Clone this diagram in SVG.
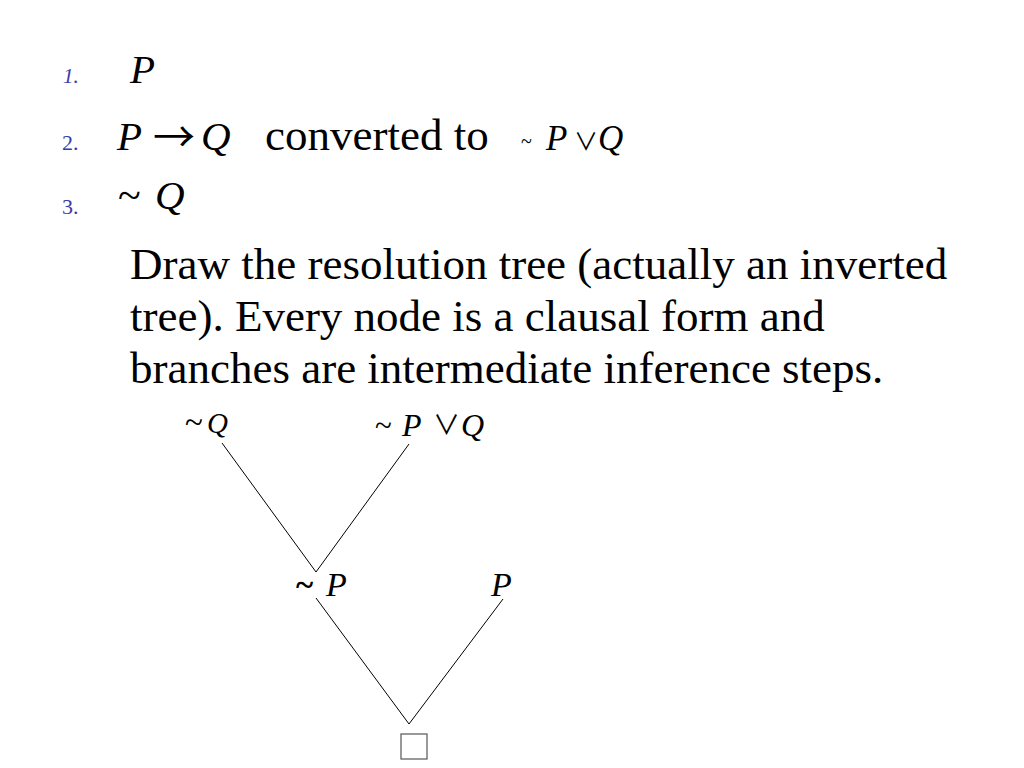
<svg xmlns="http://www.w3.org/2000/svg" width="1024" height="768" viewBox="0 0 1024 768">
<style>
text { font-family: "Liberation Serif", "DejaVu Serif", serif; fill: #000; }
.sym { font-family: "Noto Sans CJK JP", "DejaVu Sans", sans-serif; }
.num { fill: #3a3aa8; }
.it { font-style: italic; }
.body { font-size: 45px; }
.edge { stroke: #000; stroke-width: 1; fill: none; }
</style>
<rect width="1024" height="768" fill="#fff"/>
<g id="list">
  <g id="item1">
    <text class="num it" x="63" y="83" font-size="21">1.</text>
    <text class="it" x="130" y="83" font-size="41">P</text>
  </g>
  <g id="item2">
    <text class="num" x="62" y="150" font-size="22">2.</text>
    <text class="it" x="117" y="150" font-size="41">P</text>
    <text class="sym" x="153" y="152" font-size="42">→</text>
    <text class="it" x="201" y="150" font-size="41">Q</text>
    <text class="body" x="265" y="150">converted to</text>
    <text x="521" y="148" font-size="20">~</text>
    <text class="it" x="546" y="150" font-size="35">P</text>
    <text class="sym" x="574" y="150" font-size="24">∨</text>
    <text class="it" x="598" y="150" font-size="35">Q</text>
  </g>
  <g id="item3">
    <text class="num" x="62" y="214" font-size="22">3.</text>
    <text x="118" y="209" font-size="42">~</text>
    <text class="it" x="155" y="209" font-size="41">Q</text>
  </g>
</g>
<g id="paragraph">
  <text class="body" x="130" y="279">Draw the resolution tree (actually an inverted</text>
  <text class="body" x="130" y="331">tree). Every node is a clausal form and</text>
  <text class="body" x="130" y="383">branches are intermediate inference steps.</text>
</g>
<g id="connectors">
  <line class="edge" x1="222" y1="443" x2="316" y2="572"/>
  <line class="edge" x1="409" y1="444" x2="316" y2="572"/>
  <line class="edge" x1="316" y1="598" x2="409" y2="724"/>
  <line class="edge" x1="503" y1="599" x2="409" y2="724"/>
</g>
<g id="node-notQ">
  <text x="185" y="433" font-size="33">~</text>
  <text class="it" x="207" y="433" font-size="29">Q</text>
</g>
<g id="node-notPorQ">
  <text x="375" y="436" font-size="31">~</text>
  <text class="it" x="402" y="436" font-size="32">P</text>
  <text class="sym" x="433" y="435" font-size="27">∨</text>
  <text class="it" x="461" y="436" font-size="32">Q</text>
</g>
<g id="node-notP">
  <text x="296" y="596" font-size="33" font-weight="bold">~</text>
  <text class="it" x="326" y="596" font-size="34">P</text>
</g>
<g id="node-P">
  <text class="it" x="491" y="596" font-size="34">P</text>
</g>
<g id="node-empty">
  <rect x="401" y="734" width="26" height="25" fill="none" stroke="#555" stroke-width="1.2"/>
</g>
</svg>
